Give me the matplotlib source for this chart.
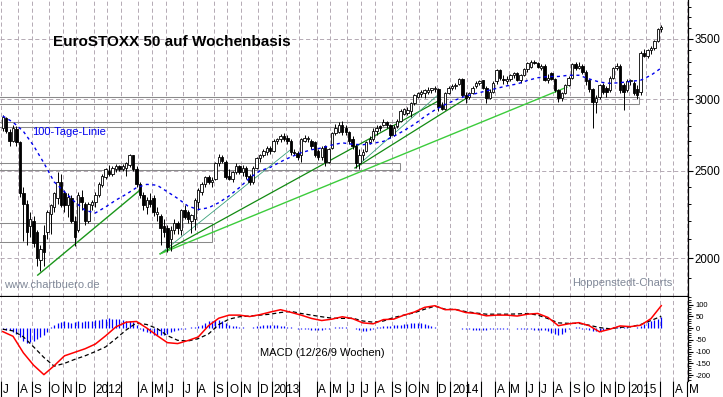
import numpy as np
import pandas as pd
import matplotlib
matplotlib.use('Agg')
import matplotlib.pyplot as plt
import matplotlib.transforms as mtrans
from matplotlib.patches import Rectangle
from matplotlib.ticker import FixedLocator, NullFormatter, FuncFormatter

plt.rcParams['font.family'] = ['Liberation Sans', 'DejaVu Sans']
plt.rcParams['axes.unicode_minus'] = False
plt.rcParams['lines.scale_dashes'] = False

# weekly candles, first week ends Fri 2011-07-01
first_week = '2011-07-01'
opens = [2790, 2860, 2760, 2700, 2780, 2690, 2360, 2300, 2170, 2200,
         2140, 1990, 2120, 2140, 2240, 2280, 2330, 2430, 2360, 2290,
         2330, 2200, 2150, 2340, 2300, 2200, 2290, 2310, 2350, 2410,
         2460, 2500, 2480, 2510, 2530, 2510, 2520, 2535, 2600, 2510,
         2420, 2350, 2280, 2320, 2330, 2240, 2230, 2170, 2160, 2100,
         2150, 2190, 2150, 2260, 2250, 2200, 2210, 2310, 2370, 2420,
         2460, 2430, 2450, 2550, 2590, 2560, 2470, 2450, 2490, 2530,
         2490, 2520, 2470, 2430, 2520, 2580, 2600, 2620, 2650, 2630,
         2700, 2710, 2730, 2720, 2700, 2620, 2615, 2600, 2700, 2710,
         2700, 2690, 2630, 2590, 2660, 2560, 2650, 2750, 2760, 2810,
         2790, 2760, 2710, 2660, 2550, 2600, 2630, 2690, 2710, 2770,
         2800, 2810, 2830, 2810, 2740, 2800, 2840, 2890, 2900, 2910,
         2970, 3020, 3040, 3050, 3060, 3070, 3080, 3080, 2960, 2930,
         3050, 3090, 3100, 3120, 3160, 3030, 3020, 3050, 3100, 3130,
         3150, 3090, 3010, 3060, 3140, 3230, 3160, 3140, 3160, 3190,
         3210, 3150, 3190, 3240, 3260, 3300, 3290, 3250, 3270, 3150,
         3210, 3160, 3070, 3010, 3050, 3110, 3170, 3280, 3250, 3270,
         3220, 3150, 3080, 2980, 3020, 3110, 3090, 3070, 3170, 3250,
         3270, 3110, 3070, 3140, 3130, 3080, 3060, 3380, 3350, 3400,
         3420, 3480, 3590]
highs = [2885, 2870, 2780, 2810, 2800, 2700, 2400, 2320, 2250, 2230,
         2150, 2070, 2180, 2260, 2300, 2370, 2490, 2480, 2380, 2360,
         2350, 2230, 2370, 2380, 2310, 2310, 2320, 2370, 2430, 2480,
         2520, 2540, 2530, 2545, 2540, 2545, 2560, 2610, 2605, 2530,
         2430, 2370, 2340, 2360, 2350, 2280, 2240, 2210, 2180, 2170,
         2210, 2200, 2270, 2290, 2260, 2240, 2330, 2390, 2430, 2470,
         2475, 2460, 2560, 2610, 2600, 2570, 2510, 2500, 2550, 2540,
         2540, 2530, 2480, 2530, 2590, 2610, 2640, 2660, 2660, 2710,
         2720, 2745, 2750, 2740, 2710, 2640, 2630, 2720, 2740, 2735,
         2710, 2700, 2640, 2660, 2670, 2650, 2760, 2820, 2830, 2840,
         2810, 2770, 2730, 2680, 2640, 2640, 2700, 2730, 2790, 2810,
         2810, 2850, 2840, 2820, 2810, 2850, 2930, 2935, 2940, 2980,
         3040, 3060, 3070, 3080, 3095, 3090, 3100, 3090, 2980, 3060,
         3100, 3120, 3130, 3170, 3170, 3060, 3060, 3100, 3140, 3150,
         3155, 3100, 3080, 3140, 3240, 3240, 3190, 3180, 3200, 3220,
         3220, 3200, 3250, 3300, 3320, 3320, 3300, 3280, 3280, 3200,
         3220, 3170, 3080, 3060, 3120, 3180, 3290, 3300, 3300, 3280,
         3230, 3160, 3090, 3030, 3120, 3130, 3100, 3180, 3260, 3290,
         3280, 3130, 3160, 3160, 3140, 3110, 3390, 3410, 3410, 3440,
         3490, 3600, 3625]
lows = [2770, 2750, 2660, 2690, 2660, 2340, 2090, 2070, 2110, 2060,
        1960, 1936, 1960, 2100, 2130, 2250, 2300, 2280, 2250, 2220,
        2190, 2066, 2140, 2260, 2180, 2190, 2260, 2280, 2340, 2400,
        2450, 2470, 2470, 2490, 2500, 2500, 2470, 2525, 2500, 2400,
        2330, 2260, 2240, 2280, 2230, 2200, 2070, 2110, 2030, 2040,
        2130, 2130, 2120, 2210, 2190, 2136, 2150, 2260, 2350, 2400,
        2420, 2400, 2440, 2530, 2550, 2450, 2440, 2430, 2480, 2480,
        2470, 2450, 2410, 2420, 2510, 2560, 2590, 2600, 2610, 2620,
        2680, 2690, 2700, 2680, 2600, 2600, 2570, 2560, 2690, 2690,
        2640, 2590, 2570, 2570, 2530, 2550, 2640, 2740, 2750, 2740,
        2740, 2680, 2640, 2520, 2510, 2570, 2620, 2680, 2700, 2740,
        2770, 2800, 2790, 2720, 2730, 2790, 2830, 2880, 2880, 2870,
        2960, 3010, 3020, 3010, 3040, 3050, 3060, 2910, 2920, 2920,
        3040, 3070, 3080, 3110, 3020, 2970, 3000, 3040, 3090, 3110,
        3080, 2970, 3000, 3050, 3120, 3150, 3120, 3120, 3140, 3170,
        3140, 3130, 3180, 3220, 3250, 3280, 3250, 3230, 3140, 3130,
        3150, 3060, 2980, 2990, 3040, 3100, 3160, 3230, 3240, 3200,
        3110, 3060, 2790, 2900, 3000, 3040, 3020, 3060, 3160, 3230,
        3050, 2920, 3060, 3110, 3030, 3000, 3030, 3340, 3330, 3370,
        3400, 3470, 3560]
closes = [2870, 2765, 2700, 2790, 2690, 2360, 2300, 2140, 2210, 2080,
          2000, 2050, 2030, 2250, 2290, 2360, 2430, 2290, 2290, 2340,
          2200, 2110, 2350, 2310, 2200, 2300, 2310, 2350, 2420, 2470,
          2510, 2480, 2520, 2530, 2510, 2530, 2550, 2600, 2510, 2420,
          2350, 2290, 2320, 2300, 2250, 2250, 2160, 2140, 2060, 2150,
          2190, 2160, 2260, 2220, 2210, 2235, 2320, 2380, 2420, 2460,
          2430, 2445, 2550, 2590, 2565, 2460, 2450, 2490, 2530, 2490,
          2520, 2470, 2430, 2520, 2580, 2600, 2630, 2650, 2630, 2700,
          2710, 2730, 2710, 2700, 2620, 2615, 2590, 2710, 2720, 2720,
          2660, 2600, 2590, 2650, 2560, 2640, 2750, 2790, 2810, 2760,
          2760, 2700, 2660, 2550, 2600, 2620, 2690, 2710, 2770, 2790,
          2790, 2830, 2810, 2740, 2790, 2840, 2910, 2925, 2920, 2970,
          3030, 3050, 3060, 3070, 3075, 3085, 3090, 2940, 2930, 3050,
          3090, 3100, 3110, 3160, 3030, 3010, 3050, 3090, 3130, 3140,
          3090, 3010, 3060, 3130, 3230, 3170, 3150, 3160, 3190, 3210,
          3150, 3190, 3240, 3290, 3300, 3290, 3260, 3270, 3150, 3170,
          3160, 3070, 3010, 3050, 3110, 3170, 3280, 3250, 3270, 3220,
          3140, 3080, 2980, 3010, 3110, 3060, 3060, 3170, 3250, 3270,
          3070, 3060, 3140, 3150, 3050, 3030, 3380, 3350, 3400, 3420,
          3480, 3590, 3610]

# 100-Tage-Linie, MACD and signal read every third week
step = 3
ma100 = [2875, 2830, 2765, 2665, 2550, 2430, 2370, 2310, 2260, 2245,
         2280, 2320, 2355, 2395, 2415, 2410, 2370, 2330, 2285, 2265,
         2275, 2305, 2345, 2395, 2455, 2500, 2522, 2558, 2590, 2618,
         2638, 2650, 2670, 2685, 2675, 2672, 2682, 2695, 2730, 2770,
         2815, 2870, 2920, 2960, 2995, 3025, 3045, 3065, 3085, 3105,
         3120, 3148, 3170, 3180, 3180, 3190, 3190, 3160, 3135, 3125,
         3130, 3140, 3150, 3190, 3250]
macd = [-15, -35, -105, -158, -198, -160, -118, -103, -88, -68,
        -33, 5, 25, 28, 0, -32, -62, -66, -53, -38,
        10, 42, 55, 55, 49, 57, 68, 78, 67, 55,
        41, 32, 38, 48, 40, 22, 18, 36, 38, 55,
        68, 88, 95, 78, 79, 66, 62, 52, 55, 55,
        51, 59, 62, 45, 10, 18, 23, 10, -16, -5,
        9, 6, 12, 40, 95]
signal = [-5, -12, -37, -80, -125, -162, -150, -133, -118, -100,
          -80, -45, -8, 22, 15, -2, -32, -52, -55, -45,
          -25, 15, 38, 48, 51, 55, 59, 66, 71, 62,
          55, 48, 42, 41, 42, 30, 25, 30, 45, 55,
          65, 80, 93, 80, 79, 70, 64, 59, 59, 59,
          60, 62, 55, 40, 22, 20, 20, 12, 2, -3,
          3, 5, 15, 32, 50]
# MACD histogram, every week
hist = [-5, -8, -10, -15, -25, -40, -55, -62, -60, -55,
        -48, -40, -30, -18, 5, 15, 22, 25, 28, 25,
        22, 25, 28, 25, 28, 30, 32, 33, 35, 38,
        40, 42, 40, 40, 38, 35, 32, 30, 25, 15,
        -5, -12, -18, -22, -28, -30, -30, -28, -25, -18,
        -12, -8, -5, -2, 2, 3, 5, 8, 15, 22,
        28, 32, 35, 33, 28, 22, 15, 10, 8, 5,
        3, 0, 2, 5, 8, 10, 12, 15, 15, 15,
        12, 10, 8, 5, 3, 0, -3, -5, -5, -5,
        -8, -10, -10, -8, -5, -2, 2, 5, 6, 6,
        5, 2, 0, -5, -10, -14, -12, -8, -4, 3,
        6, 8, 10, 10, 12, 14, 15, 16, 18, 20,
        22, 22, 20, 18, 14, 10, 6, 2, 0, 0,
        -1, 0, 1, 0, -3, -5, -6, -7, -8, -8,
        -8, -7, -6, -5, -4, -3, -3, -2, -1, 0,
        -2, -4, -6, -6, -6, -8, -8, -10, -10, -14,
        -20, -25, -28, -25, -15, -5, 2, 3, 3, -2,
        -6, -10, -14, -14, -12, -8, -4, 0, 3, 5,
        6, 5, 3, 2, 2, 4, 10, 18, 25, 30,
        35, 40, 45]

# support zones (week where the box ends, lower / upper price)
zone_end = [185.6, 115.3, 115.8, 61.0]
zone_low = [2964, 2795, 2503, 2083]
zone_high = [3018, 2828, 2548, 2187]

# trend lines: start week, start price, end week, end price
trend_x0 = [10.2, 45.9, 45.9, 45.9, 102.7, 102.7]
trend_y0 = [1916, 2023, 2023, 2023, 2518, 2518]
trend_x1 = [40.0, 83.8, 127.5, 164.5, 127.5, 136.2]
trend_y1 = [2380, 2636, 2995, 3095, 3048, 3025]
trend_col = ['#1a961a', '#3aa07a', '#128a12', '#3ccc3c', '#3aa07a', '#128a12']
trend_lw = [1.0, 0.6, 0.9, 1.0, 0.6, 0.9]

price_ticks = [2000, 2500, 3000, 3500]
macd_ticks = [100, 50, 0, -50, -100, -150, -200]
month_letter = {4: 'A', 5: 'M', 6: 'J', 7: 'J', 8: 'A', 9: 'S',
                10: 'O', 11: 'N', 12: 'D'}

W, H = 723, 397
fig = plt.figure(figsize=(W / 100, H / 100), dpi=100)
ax = fig.add_axes([0, 1 - 297 / H, 688 / W, 297 / H])
ax2 = fig.add_axes([0, 1 - 381 / H, 688 / W, 84 / H])

xlim = (-0.8, 199.8)
weeks = np.arange(len(closes))
sweeks = np.arange(0, len(closes), step)

# month ticks at the first week of each month
axis_dates = pd.date_range(first_week, periods=201, freq='W-FRI')
mticks, mlabels = [], []
for i, d in enumerate(axis_dates):
    if i == 0 or d.month != axis_dates[i - 1].month:
        if i - 0.5 < xlim[1]:
            mticks.append(i - 0.5)
            mlabels.append(str(d.year) if d.month == 1 else month_letter.get(d.month, ''))

gcol = '#b4aab4'
gdash = (0, (3, 2))

# ---- price panel
ax.set_yscale('log')
ax.set_xlim(*xlim)
ax.set_ylim(1812, 3865)
for t in mticks:
    ax.axvline(t, color=gcol, lw=0.7, ls=gdash, zorder=0)
    ax2.axvline(t, color=gcol, lw=0.7, ls=gdash, zorder=0)
for p in price_ticks:
    ax.axhline(p, color=gcol, lw=0.7, ls=gdash, zorder=0)

for xe, lo, hi in zip(zone_end, zone_low, zone_high):
    ax.add_patch(Rectangle((-2, lo), xe + 2, hi - lo, fill=False,
                           edgecolor='#8a8a8a', lw=0.75, zorder=1))

for x0, y0, x1, y1, c, lw in zip(trend_x0, trend_y0, trend_x1, trend_y1, trend_col, trend_lw):
    ax.plot([x0, x1], [y0, y1], color=c, lw=lw, zorder=3)

o = np.array(opens)
c = np.array(closes)
up = c >= o
ax.vlines(weeks, lows, highs, color='black', lw=0.7, zorder=4)
ax.bar(weeks, np.abs(c - o), bottom=np.minimum(o, c), width=0.7,
       color=np.where(up, 'white', 'black'), edgecolor='black', linewidth=0.6, zorder=5)

ax.plot(sweeks, ma100, color='#0000ee', lw=1.0, ls=(0, (2.2, 2.5)), zorder=6)

ax.yaxis.tick_right()
ax.yaxis.set_major_locator(FixedLocator(price_ticks))
ax.yaxis.set_major_formatter(FuncFormatter(lambda v, p: '%d' % round(v)))
ax.yaxis.set_minor_locator(FixedLocator(np.arange(1900, 3900, 100)))
ax.yaxis.set_minor_formatter(NullFormatter())
ax.tick_params(axis='y', which='major', length=3.3, width=0.8, labelsize=8.3, pad=1.5)
ax.tick_params(axis='y', which='minor', length=2, width=0.7)
ax.tick_params(axis='x', bottom=False, labelbottom=False)
for s in ['top', 'left']:
    ax.spines[s].set_visible(False)
ax.spines['bottom'].set_linewidth(1.6)
ax.spines['right'].set_linewidth(0.9)

# ---- MACD panel
ax2.set_xlim(*xlim)
ax2.set_ylim(-225, 132)
ax2.vlines(weeks, 0, hist, color='#0000ff', lw=0.9, zorder=2)
ax2.plot(sweeks, signal, color='black', lw=0.9, ls=(0, (3, 2)), zorder=3)
ax2.plot(sweeks, macd, color='#ff0000', lw=1.1, zorder=4)

ax2.yaxis.tick_right()
ax2.yaxis.set_major_locator(FixedLocator(macd_ticks))
ax2.yaxis.set_major_formatter(FuncFormatter(lambda v, p: '%d' % round(v)))
ax2.yaxis.set_minor_locator(FixedLocator(np.arange(-220, 131, 10)))
ax2.yaxis.set_minor_formatter(NullFormatter())
ax2.tick_params(axis='y', which='major', length=3.5, width=0.8, labelsize=5.5, pad=2)
ax2.tick_params(axis='y', which='minor', length=1.8, width=0.6)
ax2.xaxis.set_major_locator(FixedLocator(mticks))
ax2.tick_params(axis='x', which='major', length=11.5, width=0.8, direction='out',
                labelbottom=False)
for s in ['top', 'left', 'bottom']:
    ax2.spines[s].set_visible(False)
ax2.spines['right'].set_linewidth(0.9)

trans = mtrans.blended_transform_factory(ax2.transData, fig.transFigure)
for t, lab in zip(mticks, mlabels):
    if lab:
        ax2.text(t + 0.5, 1 - 390 / H, lab, transform=trans, fontsize=8.5,
                 ha='left', va='center', clip_on=False)

# ---- texts
def fpos(x, y):
    return x / W, 1 - y / H

fig.text(*fpos(53, 42), 'EuroSTOXX 50 auf Wochenbasis', fontsize=11,
         fontweight='bold', ha='left', va='center')
fig.text(*fpos(32, 132), '100-Tage-Linie', fontsize=8, color='#0000ee',
         ha='left', va='center')
fig.text(*fpos(4, 285), 'www.chartbuero.de', fontsize=8, color='#808898',
         ha='left', va='center')
fig.text(*fpos(572, 283), 'Hoppenstedt-Charts', fontsize=8, color='#808898',
         ha='left', va='center')
fig.text(*fpos(260, 353), 'MACD (12/26/9 Wochen)', fontsize=8, color='black',
         ha='left', va='center')

fig.savefig('out.png', dpi=100, facecolor='white')
